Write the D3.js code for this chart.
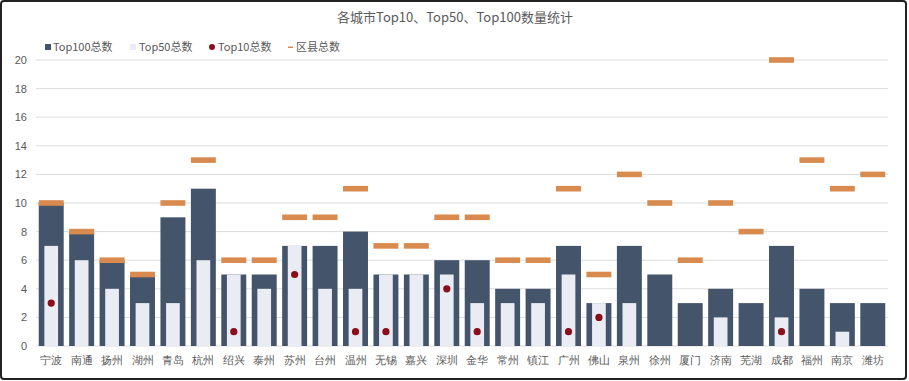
<!DOCTYPE html>
<html><head><meta charset="utf-8">
<script src="https://cdn.jsdelivr.net/npm/d3@7"></script>
<style>body{margin:0;background:#fff;}svg{display:block;font-family:"Noto Sans CJK SC","Noto Sans",sans-serif;}</style>
</head><body>
<script>
const cities = ["宁波","南通","扬州","湖州","青岛","杭州","绍兴","泰州","苏州","台州","温州","无锡","嘉兴","深圳","金华","常州","镇江","广州","佛山","泉州","徐州","厦门","济南","芜湖","成都","福州","南京","潍坊"];
const top100 = [10,8,6,5,9,11,5,5,7,7,8,5,5,6,6,4,4,7,3,7,5,3,4,3,7,4,3,3];
const top50  = [7,6,4,3,3,6,5,4,7,4,4,5,5,5,3,3,3,5,3,3,0,0,2,0,2,0,1,0];
const top10  = [3,null,null,null,null,null,1,null,5,null,1,1,null,4,1,null,null,1,2,null,null,null,null,null,1,null,null,null];
const counties = [10,8,6,5,10,13,6,6,9,9,11,7,7,9,9,6,6,11,5,12,10,6,10,8,20,13,11,12];
const yTicks = [0,2,4,6,8,10,12,14,16,18,20];
const title = "各城市Top10、Top50、Top100数量统计";
const legendNames = ["Top100总数","Top50总数","Top10总数","区县总数"];

const W = 909, H = 381;
const colDark = "#44546a", colLight = "#e9ecf3", colDot = "#8b0e1b", colOrange = "#d98b4f";
const svg = d3.select("body").append("svg").attr("width", W).attr("height", H);

svg.append("rect").attr("x",1).attr("y",1).attr("width",905).attr("height",378)
  .attr("rx",3).attr("fill","#fff").attr("stroke","#222").attr("stroke-width",2);

const x = d3.scaleBand().domain(cities).range([36, 888]).paddingInner(0.18).paddingOuter(0.09);
const y = d3.scaleLinear().domain([0, 20]).range([346, 60]);

// grid
svg.append("g").selectAll("line").data(yTicks).join("line")
  .attr("x1", 36).attr("x2", 888).attr("y1", d => y(d)).attr("y2", d => y(d))
  .attr("stroke", "#dcdcdc").attr("stroke-width", 1);

// y axis labels
const yAxis = d3.axisLeft(y).tickValues(yTicks).tickSize(0).tickPadding(0);
const gy = svg.append("g").attr("transform", "translate(27,0)").call(yAxis);
gy.select(".domain").remove();
gy.selectAll("text").attr("fill", "#595959").attr("font-size", 11);

// x axis labels
const xAxis = d3.axisBottom(x).tickSize(0).tickPadding(0);
const gx = svg.append("g").attr("transform", "translate(0,356)").call(xAxis);
gx.select(".domain").remove();
gx.selectAll("text").attr("fill", "#595959").attr("font-size", 11).attr("dy", "0.75em");

const bw = x.bandwidth();
const innerW = bw * 0.55;

// top100 bars
svg.append("g").selectAll("rect").data(cities).join("rect")
  .attr("x", d => x(d)).attr("width", bw)
  .attr("y", (d,i) => y(top100[i])).attr("height", (d,i) => y(0) - y(top100[i]))
  .attr("fill", colDark);

// top50 bars
svg.append("g").selectAll("rect").data(cities).join("rect")
  .attr("x", d => x(d) + (bw - innerW)/2).attr("width", innerW)
  .attr("y", (d,i) => y(top50[i])).attr("height", (d,i) => y(0) - y(top50[i]))
  .attr("fill", colLight);

// county dashes
svg.append("g").selectAll("rect").data(cities).join("rect")
  .attr("x", d => x(d)).attr("width", bw)
  .attr("y", (d,i) => y(counties[i]) - 2.8).attr("height", 5.6)
  .attr("fill", colOrange);

// top10 dots
svg.append("g").selectAll("circle").data(cities.filter((d,i) => top10[i] != null)).join("circle")
  .attr("cx", d => x(d) + bw/2).attr("cy", d => y(top10[cities.indexOf(d)])).attr("r", 3.6)
  .attr("fill", colDot);

// title
svg.append("text").attr("x", 455).attr("y", 22).attr("text-anchor", "middle")
  .attr("fill", "#595959").attr("font-size", 13).text(title);

// legend
const lg = svg.append("g").attr("font-size", 11).attr("fill", "#595959");
lg.append("rect").attr("x", 45).attr("y", 44).attr("width", 6).attr("height", 6).attr("fill", colDark);
lg.append("text").attr("x", 53).attr("y", 51).text(legendNames[0]);
lg.append("rect").attr("x", 130).attr("y", 44).attr("width", 6).attr("height", 6).attr("fill", colLight);
lg.append("text").attr("x", 139).attr("y", 51).text(legendNames[1]);
lg.append("circle").attr("cx", 212).attr("cy", 47).attr("r", 3).attr("fill", colDot);
lg.append("text").attr("x", 218).attr("y", 51).text(legendNames[2]);
lg.append("rect").attr("x", 288).attr("y", 46.5).attr("width", 5).attr("height", 1.5).attr("fill", colOrange);
lg.append("text").attr("x", 296).attr("y", 51).text(legendNames[3]);
</script>
</body></html>
